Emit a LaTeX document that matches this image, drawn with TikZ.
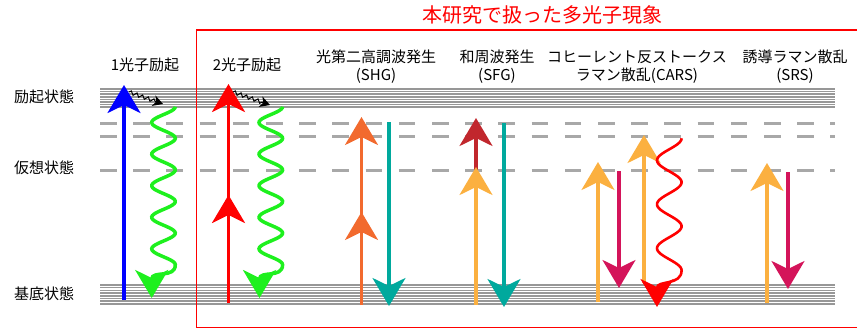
\documentclass[tikz,border=0pt]{standalone}
\usepackage{fontspec}
\setmainfont{Noto Sans CJK JP}
\usetikzlibrary{arrows.meta,decorations.pathmorphing}

\definecolor{bandgray}{HTML}{979797}
\definecolor{dashgray}{HTML}{A8A8A8}
\definecolor{laserblue}{HTML}{0000FF}
\definecolor{laserred}{HTML}{FF0000}
\definecolor{fluogreen}{HTML}{1EF01E}
\definecolor{shgorange}{HTML}{F26A2E}
\definecolor{sigteal}{HTML}{00A99D}
\definecolor{sfgred}{HTML}{C1272D}
\definecolor{pumporange}{HTML}{FBB040}
\definecolor{stokesmag}{HTML}{D4145A}

\tikzset{
	bigtip/.style={-{Stealth[length=28pt,width=33pt,inset=8pt]}},
	photon/.style={bigtip,line width=3.2pt},
	relax/.style={-{Stealth[length=10pt,width=11pt,inset=3pt]},line width=1pt,decorate,decoration={snake,segment length=6pt,amplitude=1.8pt,post length=8pt}},
	lbl/.style={font=\fontsize{15}{18}\selectfont,align=center},
}

\begin{document}
\begin{tikzpicture}[x=1pt,y=-1pt]
		\useasboundingbox (0,0) rectangle (857,329);
		% energy bands
		\foreach \y in {89,91.6,...,107.5}{
			\draw[bandgray,line width=1.5pt] (100,\y) -- (835,\y);
		}
		\foreach \y in {285,287.7,...,305}{
			\draw[bandgray,line width=1.5pt] (100,\y) -- (835,\y);
		}
		\foreach \y in {123,136,170}{
			\draw[dashgray,line width=3pt,dash pattern=on 16.6pt off 16.6pt] (100,\y) -- (835,\y);
		}
		% frame and labels
		\draw[laserred,line width=1.3pt] (857,30) -- (196.5,30) -- (196.5,327.8) -- (857,327.8);
		\node[font=\fontsize{20}{24}\selectfont,text=laserred] (title) at (542,15) {本研究で扱った多光子現象};
		\node[lbl] (excited) at (44,97) {励起状態};
		\node[lbl] (virtual) at (44,168) {仮想状態};
		\node[lbl] (ground) at (44,294) {基底状態};
		\node[lbl] (onephoton) at (145,65) {1光子励起};
		\node[lbl] (twophoton) at (247,65) {2光子励起};
		\node[lbl] (shg) at (376,67) {光第二高調波発生\\(SHG)};
		\node[lbl] (sfg) at (497,67) {和周波発生\\(SFG)};
		\node[lbl] (cars) at (637,67) {コヒーレント反ストークス\\ラマン散乱(CARS)};
		\node[lbl] (srs) at (795,67) {誘導ラマン散乱\\(SRS)};
		% 1 photon
		\draw[photon,laserblue,line width=3.5pt] (124,300) -- (124,85);
		\draw[relax] (129,92) -- (163,104);
		\draw[fluogreen,line width=3.5pt,bigtip] plot[domain=0:5,samples=120] ({163.5+11.8*cos(360*\x)},{106.7+31.6*\x}) .. controls (175.3,279) and (151.7,270) .. (151.7,298);
		% 2 photon
		\draw[photon,laserred,line width=3.5pt] (228.5,303) -- (228.5,195);
		\draw[photon,laserred,line width=3.5pt] (228.5,210) -- (228.5,84);
		\draw[relax] (233,92) -- (270,105);
		\draw[fluogreen,line width=3.5pt,bigtip] plot[domain=0:5,samples=120] ({270.8+11.8*cos(360*\x)},{106.7+31.6*\x}) .. controls (282.6,279) and (259.5,270) .. (259.5,298);
		% SHG
		\draw[photon,shgorange] (361.5,305) -- (361.5,212);
		\draw[photon,shgorange] (361.5,225) -- (361.5,117);
		\draw[photon,sigteal] (389,122) -- (389,306);
		% SFG
		\draw[photon,sfgred] (476,180) -- (476,118);
		\draw[photon,pumporange] (476,305) -- (476,167);
		\draw[photon,sigteal] (504,123) -- (504,307);
		% CARS
		\draw[photon,pumporange] (598,302) -- (598,162);
		\draw[photon,stokesmag] (619,171) -- (619,288);
		\draw[photon,pumporange] (644,283) -- (644,135);
		\draw[laserred,line width=2.6pt,bigtip] plot[domain=0:3,samples=90] ({669.3+12.3*cos(360*\x)},{138.3+44*\x}) .. controls (681.6,286) and (657,280) .. (657,307);
		% SRS
		\draw[photon,pumporange] (767,303) -- (767,163);
		\draw[photon,stokesmag] (788,172) -- (788,289);
	\end{tikzpicture}
\end{document}
